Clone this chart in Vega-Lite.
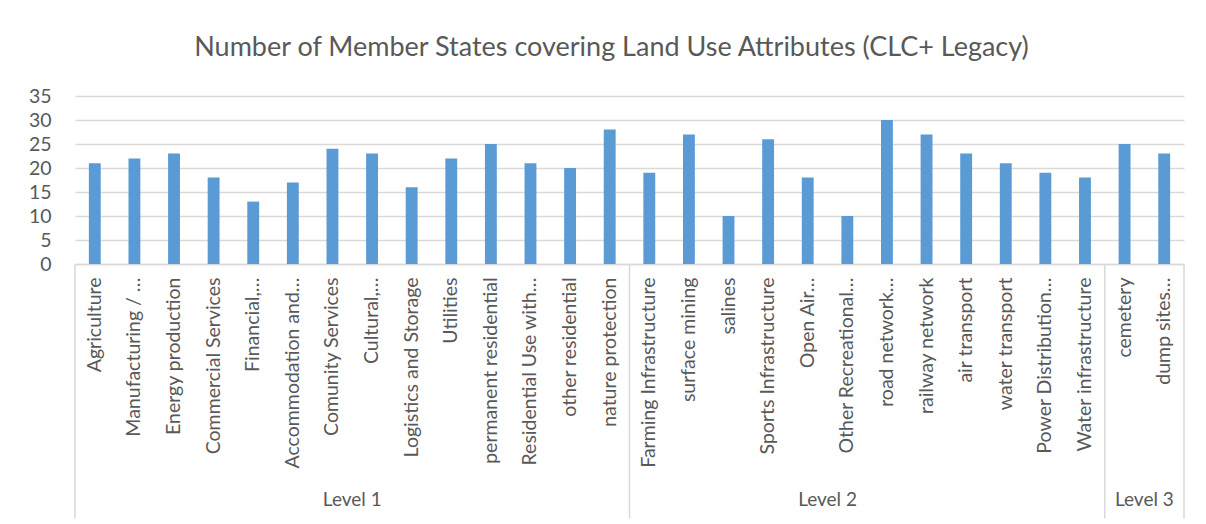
{
  "$schema": "https://vega.github.io/schema/vega-lite/v6.json",
  "width": 1109,
  "height": 168,
  "autosize": {"type": "none"},
  "padding": {"left": 75, "top": 96, "right": 22, "bottom": 260},
  "background": "white",
  "title": {
    "text": "Number of Member States covering Land Use Attributes (CLC+ Legacy)",
    "font": "Lato",
    "fontSize": 27,
    "fontWeight": "normal",
    "color": "#595959",
    "anchor": "middle",
    "dx": -18,
    "offset": 24
  },
  "config": {
    "view": {"stroke": null},
    "font": "Lato",
    "axisY": {
      "title": null,
      "labelFontSize": 19.5,
      "labelColor": "#595959",
      "labelFont": "Lato",
      "labelPadding": 24,
      "labelOverlap": false,
      "ticks": false,
      "domain": false,
      "gridColor": "#D9D9D9",
      "gridWidth": 1.5
    }
  },
  "datasets": {
    "bars": [
      {"cat": "Agriculture", "value": 21},
      {"cat": "Manufacturing / …", "value": 22},
      {"cat": "Energy production", "value": 23},
      {"cat": "Commercial Services", "value": 18},
      {"cat": "Financial,…", "value": 13},
      {"cat": "Accommodation and…", "value": 17},
      {"cat": "Comunity Services", "value": 24},
      {"cat": "Cultural,…", "value": 23},
      {"cat": "Logistics and Storage", "value": 16},
      {"cat": "Utilities", "value": 22},
      {"cat": "permanent residential", "value": 25},
      {"cat": "Residential Use with…", "value": 21},
      {"cat": "other residential", "value": 20},
      {"cat": "nature protection", "value": 28},
      {"cat": "Farming Infrastructure", "value": 19},
      {"cat": "surface mining", "value": 27},
      {"cat": "salines", "value": 10},
      {"cat": "Sports Infrastructure", "value": 26},
      {"cat": "Open Air…", "value": 18},
      {"cat": "Other Recreational…", "value": 10},
      {"cat": "road network…", "value": 30},
      {"cat": "railway network", "value": 27},
      {"cat": "air transport", "value": 23},
      {"cat": "water transport", "value": 21},
      {"cat": "Power Distribution…", "value": 19},
      {"cat": "Water infrastructure", "value": 18},
      {"cat": "cemetery", "value": 25},
      {"cat": "dump sites…", "value": 23}
    ],
    "seps": [
      {"cat": "Agriculture"},
      {"cat": "Farming Infrastructure"},
      {"cat": "cemetery"}
    ],
    "endsep": [
      {"cat": "dump sites…"}
    ],
    "groups": [
      {"cat": "Cultural,…", "label": "Level 1"},
      {"cat": "Other Recreational…", "label": "Level 2"},
      {"cat": "dump sites…", "label": "Level 3"}
    ]
  },
  "encoding": {
    "x": {
      "field": "cat",
      "type": "nominal",
      "sort": null,
      "scale": {
        "domain": ["Agriculture", "Manufacturing / …", "Energy production", "Commercial Services", "Financial,…", "Accommodation and…", "Comunity Services", "Cultural,…", "Logistics and Storage", "Utilities", "permanent residential", "Residential Use with…", "other residential", "nature protection", "Farming Infrastructure", "surface mining", "salines", "Sports Infrastructure", "Open Air…", "Other Recreational…", "road network…", "railway network", "air transport", "water transport", "Power Distribution…", "Water infrastructure", "cemetery", "dump sites…"],
        "paddingInner": 0,
        "paddingOuter": 0
      },
      "axis": {
        "title": null,
        "labelAngle": -90,
        "labelAlign": "right",
        "labelBaseline": "middle",
        "labelFontSize": 19.5,
        "labelColor": "#595959",
        "labelFont": "Lato",
        "labelPadding": 13,
        "labelLimit": 400,
        "labelOverlap": false,
        "ticks": false,
        "domainColor": "#D9D9D9",
        "domainWidth": 1.5,
        "grid": false
      }
    }
  },
  "layer": [
    {
      "data": {"name": "bars"},
      "mark": {"type": "bar", "color": "#5B9BD5", "width": {"band": 0.3}},
      "encoding": {
        "y": {
          "field": "value",
          "type": "quantitative",
          "scale": {"domain": [0, 35], "nice": false},
          "axis": {"values": [0, 5, 10, 15, 20, 25, 30, 35]}
        }
      }
    },
    {
      "data": {"name": "seps"},
      "mark": {"type": "rule", "color": "#D9D9D9", "strokeWidth": 1.5},
      "encoding": {
        "x": {"field": "cat", "type": "nominal", "bandPosition": 0},
        "y": {"datum": 0, "type": "quantitative", "axis": {"values": [0, 5, 10, 15, 20, 25, 30, 35]}},
        "y2": {"datum": -53}
      }
    },
    {
      "data": {"name": "endsep"},
      "mark": {"type": "rule", "color": "#D9D9D9", "strokeWidth": 1.5},
      "encoding": {
        "x": {"field": "cat", "type": "nominal", "bandPosition": 1},
        "y": {"datum": 0, "type": "quantitative", "axis": {"values": [0, 5, 10, 15, 20, 25, 30, 35]}},
        "y2": {"datum": -53}
      }
    },
    {
      "data": {"name": "groups"},
      "mark": {"type": "text", "color": "#595959", "fontSize": 19, "font": "Lato", "baseline": "middle", "align": "center"},
      "encoding": {
        "x": {"field": "cat", "type": "nominal", "bandPosition": 0},
        "y": {"datum": -49.2, "type": "quantitative", "axis": {"values": [0, 5, 10, 15, 20, 25, 30, 35]}},
        "text": {"field": "label"}
      }
    }
  ]
}
